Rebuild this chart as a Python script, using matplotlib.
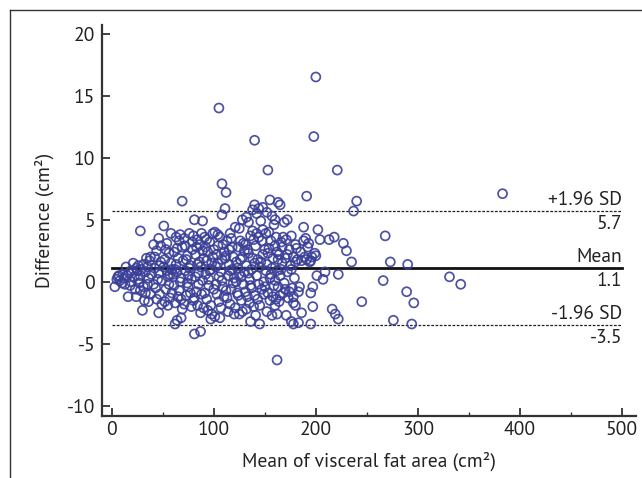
import matplotlib
matplotlib.use("Agg")
import matplotlib.pyplot as plt
from matplotlib.lines import Line2D

plt.rcParams['font.family'] = ['PT Sans', 'DejaVu Sans']
plt.rcParams['axes.unicode_minus'] = False

# Bland-Altman data: mean of two visceral fat area measurements vs. their difference
mean_area = [
    3, 5, 7, 8, 10, 6,
    11, 12, 13, 14, 15, 16, 17, 18, 19, 19,
    21, 22, 23, 24, 25, 26, 27, 28, 29, 28, 26, 24,
    31, 32, 33, 34, 35, 36, 37, 38, 39, 33, 35, 38, 31, 36,
    41, 42, 43, 44, 45, 46, 47, 48, 49, 42, 44, 46, 48, 41, 47, 49,
    51, 52, 53, 54, 55, 56, 57, 58, 59, 52, 54, 56, 58, 53, 55, 57, 59, 51,
    61, 62, 63, 64, 65, 66, 67, 68, 69, 61, 63, 65, 67, 69, 62, 64, 66, 68, 70, 60,
    71, 72, 73, 74, 75, 76, 77, 78, 79, 71, 73, 75, 77, 79, 72, 74, 76, 78, 80, 80,
    81, 82, 83, 84, 85, 86, 87, 88, 89, 81, 83, 85, 87, 89, 82, 84, 86, 88, 90, 90, 84, 89,
    91, 92, 93, 94, 95, 96, 97, 98, 99, 91, 93, 95, 97, 99, 92, 94, 96, 98, 100, 100, 93, 97,
    101, 102, 103, 104, 105, 106, 107, 108, 109, 101, 103, 105, 107, 109, 102, 104, 106, 108,
    110, 110, 104, 108, 111,
    111, 112, 113, 114, 115, 116, 117, 118, 119, 112, 114, 116, 118, 113, 115, 117, 119, 120, 120, 116,
    121, 122, 123, 124, 125, 126, 127, 128, 129, 121, 123, 125, 127, 129, 122, 124, 126, 128,
    130, 130, 125, 128, 132, 134,
    131, 132, 133, 134, 135, 136, 137, 138, 139, 131, 133, 135, 137, 139, 132, 134, 136, 138,
    140, 140, 138, 142,
    141, 142, 143, 144, 145, 146, 147, 148, 149, 141, 143, 145, 147, 149, 142, 144, 146, 148,
    150, 150, 144, 148, 152,
    151, 152, 153, 154, 155, 156, 157, 158, 159, 151, 153, 155, 157, 159, 152, 154, 156, 158,
    160, 160, 157,
    161, 162, 163, 164, 165, 166, 167, 168, 169, 161, 163, 165, 167, 169, 162, 164, 166, 168,
    170, 170,
    171, 172, 173, 174, 175, 176, 177, 178, 179, 172, 174, 176, 178, 180, 180,
    181, 182, 183, 185, 186, 188, 190, 191, 192, 193, 194, 196, 184, 189, 195,
    200, 105, 140, 198, 153, 221, 108, 112, 191, 383, 69, 240, 237, 155, 140, 163, 165,
    28, 268, 273, 290, 235, 266, 331, 342, 289, 296, 245, 276, 294, 222, 219, 216,
    162, 81, 87, 62, 64, 68, 136, 145, 178, 183, 195, 197,
    202, 204, 213, 218, 227, 230, 199, 200, 201, 209, 207, 222, 197, 195,
    188, 172, 160, 30, 46, 171, 176, 160, 162, 178, 180, 186,
]
difference = [
    -0.4, 0.2, 0.5, 0.1, -0.1, 0.4,
    0.6, 0.3, -0.2, 1.2, 0.5, -1.2, 0.7, -0.3, 0.9, 0.0,
    1.5, 0.4, -0.6, -1.2, 0.9, 1.3, -0.1, 0.5, 1.0, -0.7, 0.2, 1.1,
    1.4, -1.5, 0.8, 1.9, -0.2, 0.3, 1.7, -1.0, 0.6, -0.9, 1.2, 2.0, -0.4, -1.6,
    3.0, 1.1, -0.5, 2.5, 0.2, 3.5, -1.0, 1.6, -1.8, 2.0, -1.4, 0.7, 2.9, -0.2, 1.3, 0.1,
    4.5, 1.8, -0.6, 3.1, 0.4, 2.3, -1.3, 3.9, 1.0, -1.6, 0.9, -0.2, 1.5, 2.6, -1.9, 0.6, -0.9, 1.2,
    2.4, -1.7, 3.6, 0.8, 1.9, -0.7, 3.8, 0.3, 2.8, -0.3, 1.4, -1.2, 0.0, -2.2, 1.0, 2.7, 3.3, -1.4, 1.7, 0.6,
    3.5, 0.9, -1.1, 2.1, -0.4, 3.9, 1.3, -2.0, 2.6, -1.8, 1.8, 0.5, -0.9, 3.2, 2.9, -0.1, 1.1, 0.2, 3.7, -1.5,
    5.0, 2.2, -0.8, 3.4, 0.7, 1.6, -2.5, 3.9, 0.1, -1.3, 2.8, -0.2, 1.2, 2.5, 0.4, -1.9, 3.0, -1.0, 1.9, -2.1, 1.4, 4.9,
    3.6, 0.6, -1.4, 2.4, -0.3, 3.2, 1.0, -2.6, 2.0, -0.9, 1.7, 0.2, -1.9, 3.9, 2.8, -2.3, 0.9, 1.5, -0.6, 2.6, 3.4, -3.0,
    4.0, 1.2, -1.0, 2.9, 0.4, 3.6, -2.1, 1.8, -0.4, -2.8, 2.2, -1.6, 0.8, 3.0, -0.2, 1.5, -2.9, 0.1,
    2.4, -1.2, 3.8, 5.4, 5.9,
    1.9, -0.7, 3.3, 0.5, 2.6, -1.8, 3.5, 1.0, -0.1, 2.1, -2.4, 0.9, 2.8, -1.3, 1.4, -0.6, 2.0, 0.3, -2.6, 3.9,
    4.4, 1.6, -0.9, 2.8, 0.6, 3.3, -1.5, 2.0, -0.2, -2.1, 1.1, -2.6, 0.4, 3.1, 0.0, -1.1, 1.8, -2.4,
    2.5, 0.8, 4.3, 5.0, 5.2, 4.8,
    3.0, 1.3, -1.2, 2.3, 0.2, 3.7, -0.5, 1.9, -2.0, -0.8, 2.6, -1.7, 1.0, 3.4, -2.2, 0.7, -0.3, 4.1,
    1.5, -1.1, 5.8, 5.5,
    2.9, 0.5, -1.4, 3.6, 1.2, 4.9, -0.6, 2.2, 0.0, -2.7, 1.8, -1.9, 3.3, -1.0, 3.9, -0.2, 1.6, 4.2,
    2.6, -0.4, 5.9, 6.0, 5.6,
    3.9, 1.4, -0.9, 2.7, 0.3, 3.3, -2.7, 1.9, 4.6, 0.9, 2.3, -1.5, 1.1, -0.3, -2.4, 4.0, 0.6, -1.2,
    2.9, 0.1, 5.3,
    3.6, 0.9, -0.4, 2.2, -1.1, 3.2, 1.5, -0.9, 4.8, -1.4, 1.8, 0.5, 2.8, -0.1, 2.4, -1.6, 1.0, 3.6,
    1.9, -0.6,
    3.4, 0.8, -1.3, 2.6, 1.3, 3.7, -0.5, 2.0, 0.3, 2.2, -0.8, 1.0, -1.2, 3.0, 1.6,
    2.7, 1.8, -0.8, 2.4, 1.7, 3.3, 3.5, 1.8, 2.8, 3.1, 1.6, 2.0, -0.4, 2.0, 1.7,
    16.5, 14.0, 11.4, 11.7, 9.0, 9.0, 7.9, 7.2, 6.9, 7.1, 6.5, 6.5, 5.7, 6.6, 6.2, 6.4, 6.2,
    4.1, 3.7, 1.6, 1.4, 1.6, 0.1, 0.4, -0.2, -0.8, -1.7, -1.6, -3.1, -3.4, -3.0, -2.6, -2.2,
    -6.3, -4.2, -4.0, -3.4, -3.1, -2.9, -3.2, -3.4, -3.4, -3.3, -3.4, -2.0,
    4.2, 3.4, 3.4, 3.6, 3.1, 2.5, 2.3, 2.1, 0.5, 0.8, 0.2, 0.6, -0.4, -0.9,
    4.4, 5.0, 5.0, -2.3, -2.5, -2.7, -3.2, -1.9, -2.6, -1.7, -1.9, -2.5,
]

# Agreement limits
limit_values = [5.7, 1.1, -3.5]
limit_names = ["+1.96 SD", "Mean", "-1.96 SD"]

x_ticks = [0, 100, 200, 300, 400, 500]
y_ticks = [-10, -5, 0, 5, 10, 15, 20]

text_color = "#222222"
axis_color = "#333333"
fs = 14

fig = plt.figure(figsize=(6.42, 4.78), dpi=100)
ax = fig.add_axes([0.159, 0.130, 0.832, 0.818])

ax.scatter(mean_area, difference, s=42, facecolors="none",
           edgecolors="#3a3f98", linewidths=1.25, alpha=0.9, zorder=3)

for val, name in zip(limit_values, limit_names):
    if name == "Mean":
        ax.plot([0, 500], [val, val], color="#111111", lw=2.0, zorder=2)
    else:
        ax.plot([0, 500], [val, val], color="#222222", lw=0.9,
                linestyle=(0, (2.2, 1.2)), zorder=2)
    ax.annotate(name, xy=(500, val), xytext=(0, 1.5), textcoords="offset points",
                ha="right", va="bottom", fontsize=fs, color=text_color)
    ax.annotate(f"{val:.1f}", xy=(500, val), xytext=(0, -3.0), textcoords="offset points",
                ha="right", va="top", fontsize=fs, color=text_color)

ax.set_xlim(-9.5, 514)
ax.set_ylim(-10.8, 20.7)
ax.set_xticks(x_ticks)
ax.set_xticks([50, 150, 250, 350, 450], minor=True)
ax.set_yticks(y_ticks)

for side in ("top", "right"):
    ax.spines[side].set_visible(False)
for side in ("left", "bottom"):
    ax.spines[side].set_color(axis_color)
    ax.spines[side].set_linewidth(1.6)

ax.tick_params(axis="both", which="major", direction="in", length=6, width=1.3,
               color=axis_color, labelsize=fs, labelcolor=text_color)
ax.tick_params(axis="x", which="minor", direction="in", length=3, width=1.0,
               color=axis_color)
ax.tick_params(axis="y", pad=5)
ax.tick_params(axis="x", pad=4)

ax.set_xlabel("Mean of visceral fat area (cm²)", fontsize=fs, color=text_color, labelpad=9)
ax.set_ylabel("Difference (cm²)", fontsize=fs, color=text_color, labelpad=9)

# Outer frame along the top and left edges
fig.add_artist(Line2D([10 / 642, 10 / 642], [0, 1 - 10 / 478], transform=fig.transFigure,
                      color=axis_color, lw=1.0))
fig.add_artist(Line2D([10 / 642, 1], [1 - 10 / 478, 1 - 10 / 478], transform=fig.transFigure,
                      color=axis_color, lw=1.0))

fig.savefig("out.png", dpi=100)
